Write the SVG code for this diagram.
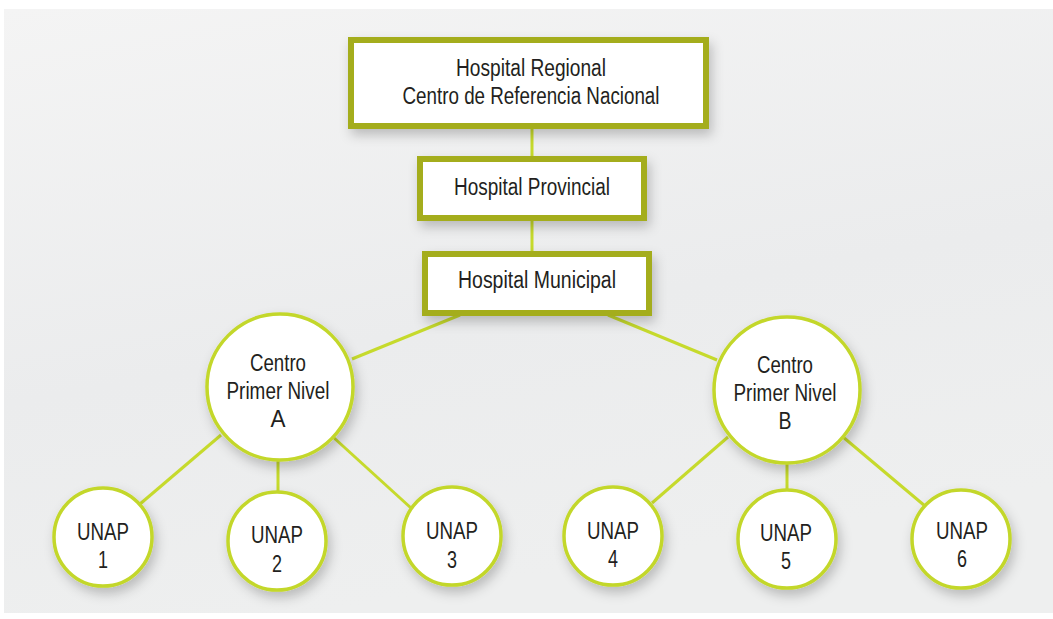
<svg xmlns="http://www.w3.org/2000/svg" width="1053" height="619" viewBox="0 0 1053 619">
  <defs>
    <linearGradient id="bg" x1="0" y1="0" x2="0.3" y2="1">
      <stop offset="0" stop-color="#f4f4f4"/>
      <stop offset="0.6" stop-color="#ebeced"/>
      <stop offset="1" stop-color="#eeefef"/>
    </linearGradient>
    <filter id="sh" x="-30%" y="-30%" width="160%" height="170%">
      <feDropShadow dx="3" dy="6" stdDeviation="6" flood-color="#000" flood-opacity="0.22"/>
    </filter>
    <style>
      .box { fill: #ffffff; stroke: #a4ad1b; stroke-width: 6; filter: url(#sh); }
      .circ { fill: #ffffff; stroke: #c3d72a; stroke-width: 3.5; filter: url(#sh); }
      .conn { stroke: #c6da2c; stroke-width: 3; fill: none; }
      text { font-family: "Liberation Sans", Arial, sans-serif; font-size: 23px; fill: #231f20; text-anchor: middle; }
    </style>
  </defs>
  <rect x="0" y="0" width="1053" height="619" fill="#ffffff"/>
  <rect x="4" y="9" width="1049" height="604" fill="url(#bg)"/>

  <g id="connectors">
    <line class="conn" x1="532" y1="128" x2="532" y2="157"/>
    <line class="conn" x1="532" y1="220" x2="532" y2="252"/>
    <line class="conn" x1="460" y1="315" x2="352" y2="359"/>
    <line class="conn" x1="608" y1="315" x2="717" y2="360"/>
    <line class="conn" x1="221" y1="435" x2="140" y2="504"/>
    <line class="conn" x1="278" y1="460" x2="278" y2="491"/>
    <line class="conn" x1="333" y1="437" x2="411" y2="508"/>
    <line class="conn" x1="728" y1="437" x2="652" y2="503"/>
    <line class="conn" x1="787" y1="463" x2="787" y2="490"/>
    <line class="conn" x1="843" y1="437" x2="925" y2="506"/>
  </g>

  <g id="hospital-regional">
    <rect class="box" x="351" y="40" width="355" height="86"/>
    <text x="531" y="76" textLength="150" lengthAdjust="spacingAndGlyphs">Hospital Regional</text>
    <text x="531" y="104" textLength="257" lengthAdjust="spacingAndGlyphs">Centro de Referencia Nacional</text>
  </g>
  <g id="hospital-provincial">
    <rect class="box" x="420" y="159" width="224" height="59"/>
    <text x="532" y="195" textLength="156" lengthAdjust="spacingAndGlyphs">Hospital Provincial</text>
  </g>
  <g id="hospital-municipal">
    <rect class="box" x="425" y="254" width="224" height="59"/>
    <text x="537" y="288" textLength="158" lengthAdjust="spacingAndGlyphs">Hospital Municipal</text>
  </g>

  <g id="centro-a">
    <circle class="circ" cx="280" cy="387" r="73"/>
    <text x="278" y="371" textLength="56" lengthAdjust="spacingAndGlyphs">Centro</text>
    <text x="278" y="399" textLength="103" lengthAdjust="spacingAndGlyphs">Primer Nivel</text>
    <text x="278" y="427" textLength="15" lengthAdjust="spacingAndGlyphs">A</text>
  </g>
  <g id="centro-b">
    <circle class="circ" cx="787" cy="390" r="73"/>
    <text x="785" y="373" textLength="56" lengthAdjust="spacingAndGlyphs">Centro</text>
    <text x="785" y="401" textLength="103" lengthAdjust="spacingAndGlyphs">Primer Nivel</text>
    <text x="785" y="429" textLength="13" lengthAdjust="spacingAndGlyphs">B</text>
  </g>

  <g id="unap-1">
    <circle class="circ" cx="103" cy="537" r="49"/>
    <text x="103" y="540" textLength="52" lengthAdjust="spacingAndGlyphs">UNAP</text>
    <text x="103" y="568" textLength="10" lengthAdjust="spacingAndGlyphs">1</text>
  </g>
  <g id="unap-2">
    <circle class="circ" cx="277" cy="541" r="49"/>
    <text x="277" y="543" textLength="52" lengthAdjust="spacingAndGlyphs">UNAP</text>
    <text x="277" y="572" textLength="10" lengthAdjust="spacingAndGlyphs">2</text>
  </g>
  <g id="unap-3">
    <circle class="circ" cx="452" cy="536" r="49"/>
    <text x="452" y="539" textLength="52" lengthAdjust="spacingAndGlyphs">UNAP</text>
    <text x="452" y="568" textLength="10" lengthAdjust="spacingAndGlyphs">3</text>
  </g>
  <g id="unap-4">
    <circle class="circ" cx="613" cy="536" r="49"/>
    <text x="613" y="539" textLength="52" lengthAdjust="spacingAndGlyphs">UNAP</text>
    <text x="613" y="567" textLength="10" lengthAdjust="spacingAndGlyphs">4</text>
  </g>
  <g id="unap-5">
    <circle class="circ" cx="787" cy="539" r="49"/>
    <text x="786" y="541" textLength="52" lengthAdjust="spacingAndGlyphs">UNAP</text>
    <text x="786" y="569" textLength="10" lengthAdjust="spacingAndGlyphs">5</text>
  </g>
  <g id="unap-6">
    <circle class="circ" cx="961" cy="539" r="49"/>
    <text x="962" y="539" textLength="52" lengthAdjust="spacingAndGlyphs">UNAP</text>
    <text x="962" y="567" textLength="10" lengthAdjust="spacingAndGlyphs">6</text>
  </g>
</svg>
